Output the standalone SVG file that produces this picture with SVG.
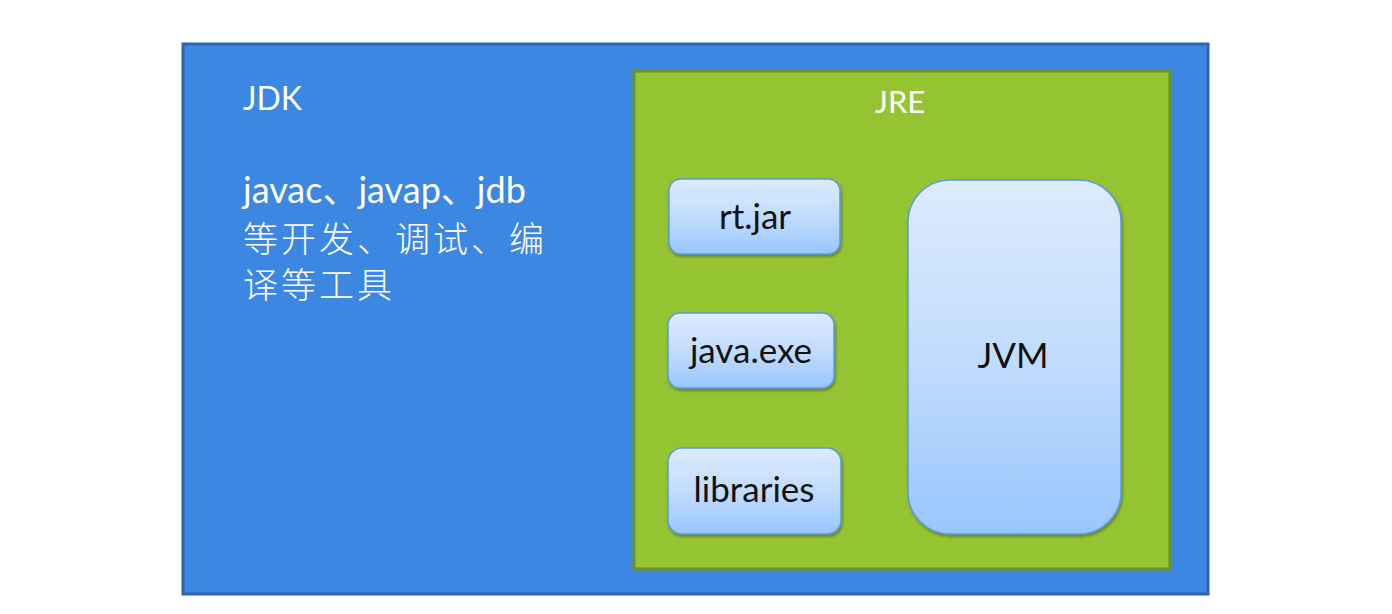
<svg xmlns="http://www.w3.org/2000/svg" width="1392" height="614" viewBox="0 0 1392 614">
<style>
.w{fill:#ffffff;font-family:Lato,"Noto Sans CJK SC",sans-serif}
.c{fill:#ffffff;font-family:"Noto Sans CJK SC",sans-serif;font-size:35px;font-weight:300;letter-spacing:3px}
.b{fill:#111111;font-family:Lato,"Noto Sans CJK SC",sans-serif;font-size:35px;text-anchor:middle}
.box{fill:url(#g);stroke:#5A9BE0;stroke-width:1.5;filter:url(#sh)}
</style>
<defs>
<linearGradient id="g" x1="0" y1="0" x2="0" y2="1">
<stop offset="0" stop-color="#DDEBFD"/>
<stop offset="0.5" stop-color="#C2DCFD"/>
<stop offset="1" stop-color="#98C6FD"/>
</linearGradient>
<filter id="sh" x="-10%" y="-10%" width="120%" height="120%">
<feDropShadow dx="1" dy="2" stdDeviation="1.5" flood-color="#000" flood-opacity="0.35"/>
</filter>
</defs>
<rect width="1392" height="614" fill="#ffffff"/>
<g id="jdk">
<rect x="183" y="44" width="1025" height="550" fill="#3B87E2" stroke="#2F66AB" stroke-width="3"/>
<text class="w" x="243" y="110" font-size="32">JDK</text>
<text class="w" x="243" y="203" font-size="36">javac<tspan font-family="Noto Sans CJK SC">、</tspan>javap<tspan font-family="Noto Sans CJK SC">、</tspan>jdb</text>
<text class="c" x="243" y="252">等开发、调试、编</text>
<text class="c" x="243" y="298">译等工具</text>
</g>
<g id="jre">
<rect x="634" y="71" width="536" height="498" fill="#95C433" stroke="#6C9326" stroke-width="3"/>
<text class="w" x="900" y="113" font-size="31" text-anchor="middle">JRE</text>
</g>
<g id="rtjar">
<rect class="box" x="669" y="179" width="171" height="75" rx="12"/>
<text class="b" x="755" y="229">rt.jar</text>
</g>
<g id="javaexe">
<rect class="box" x="668" y="313" width="166" height="75" rx="12"/>
<text class="b" x="751" y="363">java.exe</text>
</g>
<g id="libraries">
<rect class="box" x="668" y="448" width="173" height="86" rx="14"/>
<text class="b" x="754" y="502">libraries</text>
</g>
<g id="jvm">
<rect class="box" x="908" y="180" width="213" height="354" rx="42"/>
<text class="b" x="1013" y="368" font-size="33">JVM</text>
</g>
<g id="connectors"/>
</svg>
